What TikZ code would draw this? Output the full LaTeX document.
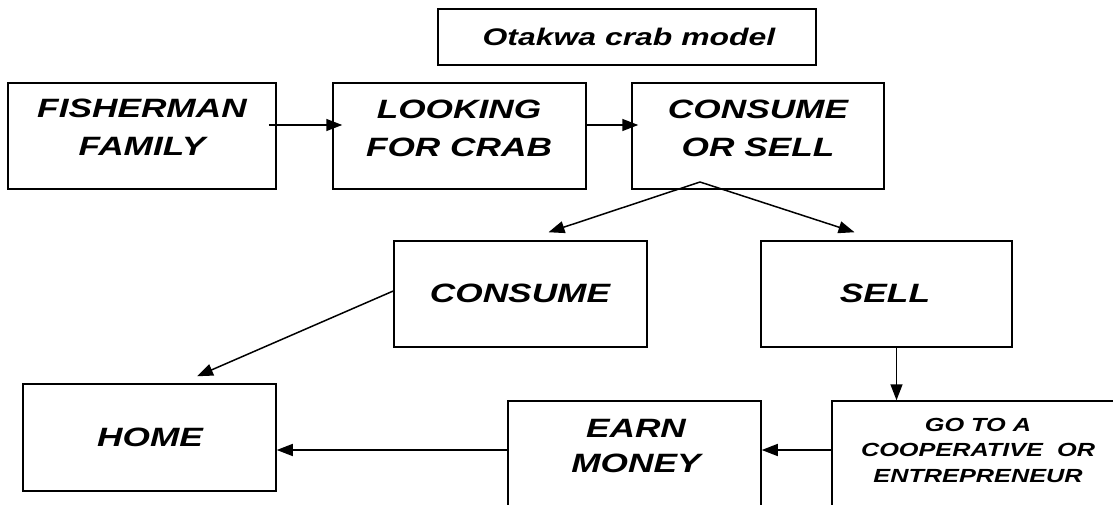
\documentclass[tikz,border=0pt]{standalone}
\usepackage{fontspec}
\newfontfamily\boxfont[FakeStretch=1.33]{Liberation Sans}
\usetikzlibrary{arrows.meta}
\tikzset{
  box/.style={draw=black, line width=1.5pt, fill=white, inner sep=0pt, rectangle},
  lbl/.style={inner sep=0pt, align=center, text=black},
  big/.style={lbl, font=\boxfont\bfseries\itshape\fontsize{26.5}{38}\selectfont},
  small/.style={lbl, font=\boxfont\bfseries\itshape\fontsize{19}{25.5}\selectfont},
  ttl/.style={lbl, font=\boxfont\bfseries\itshape\fontsize{24}{28}\selectfont},
  arr/.style={line width=1.5pt, -{Triangle[length=16pt 0,width=12pt 0]}}
}
\begin{document}
\begin{tikzpicture}[x=1pt,y=-1pt]
\useasboundingbox (0,0) rectangle (1113,505);
\fill[white] (0,0) rectangle (1113,505);
\clip (0,0) rectangle (1113,505);
% boxes
\node[box, minimum width=378pt, minimum height=56pt] (title) at (627,37) {};
\node[box, minimum width=268pt, minimum height=106pt] (fisher) at (142,136) {};
\node[box, minimum width=253pt, minimum height=106pt] (look) at (459.5,136) {};
\node[box, minimum width=252pt, minimum height=106pt] (cos) at (758,136) {};
\node[box, minimum width=253pt, minimum height=106pt] (consume) at (520.5,294) {};
\node[box, minimum width=251pt, minimum height=106pt] (sell) at (886.5,294) {};
\node[box, minimum width=253pt, minimum height=107pt] (home) at (149.5,437.5) {};
\node[box, minimum width=253pt, minimum height=106pt] (earn) at (634.5,454) {};
\node[box, minimum width=288pt, minimum height=106pt] (go) at (976,454) {};
% labels
\node[ttl] (title-t) at (629,37) {Otakwa crab model};
\node[big] (fisher-t) at (142,127.5) {FISHERMAN\\FAMILY};
\node[big] (look-t) at (459,128.5) {LOOKING\\FOR CRAB};
\node[big] (cos-t) at (758,128.5) {CONSUME\\OR SELL};
\node[big] (consume-t) at (520,293.5) {CONSUME};
\node[big] (sell-t) at (885,293.5) {SELL};
\node[big] (home-t) at (150,437) {HOME};
\node[big, font=\boxfont\bfseries\itshape\fontsize{26.5}{35}\selectfont] (earn-t) at (636,446) {EARN\\MONEY};
\node[small] (go-t) at (978,450) {GO TO A\\COOPERATIVE\ \ OR\\ENTREPRENEUR};
% connectors
\coordinate (peak) at (700,182);
\draw[arr] ([xshift=-8pt,yshift=11pt]fisher.east) -- ([xshift=10pt,yshift=11pt]look.west);
\draw[arr] ([yshift=11pt]look.east) -- ([xshift=7pt,yshift=11pt]cos.west);
\draw[arr] (peak) -- ([xshift=28pt,yshift=8pt]consume.north);
\draw[arr] (peak) -- ([xshift=-32pt,yshift=8pt]sell.north);
\draw[arr] ([yshift=3pt]consume.west) -- ([xshift=47.5pt,yshift=7pt]home.north);
\draw[arr] ([xshift=10pt]sell.south) -- ([xshift=-79.5pt]go.north);
\draw[arr] ([yshift=4pt]go.west) -- ([yshift=4pt]earn.east);
\draw[arr] ([yshift=4pt]earn.west) -- ([yshift=-12.5pt]home.east);
\end{tikzpicture}
\end{document}
